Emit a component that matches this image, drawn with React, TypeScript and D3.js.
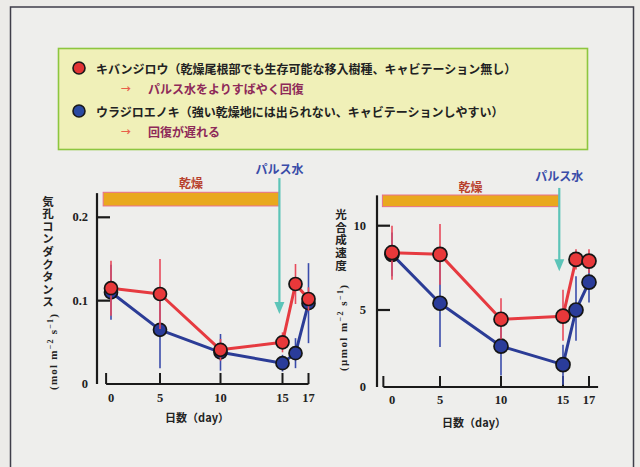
import React from "react";
import * as d3 from "d3";

// Measurement days (drought from day 0, pulse watering just before day 15)
const days = [0, 5, 10, 15, 16, 17];
const xTickDays = [0, 5, 10, 15, 17];

// Stomatal conductance (mol m-2 s-1)
const kibanGs = [0.115, 0.108, 0.041, 0.05, 0.12, 0.102];
const kibanGsErr = [0.033, 0.042, 0.013, 0.012, 0.024, 0.014];
const uraGs = [0.11, 0.065, 0.038, 0.025, 0.037, 0.097];
const uraGsErr = [0.033, 0.046, 0.022, 0.01, 0.018, 0.048];

// Photosynthetic rate (umol m-2 s-1)
const kibanPn = [8.4, 8.3, 4.4, 4.6, 8.0, 7.9];
const kibanPnErr = [1.6, 1.8, 1.3, 1.6, 0.6, 0.7];
const uraPn = [8.3, 5.4, 2.65, 1.45, 5.0, 6.65];
const uraPnErr = [1.3, 2.8, 1.9, 1.3, 2.0, 1.2];

const gsTicks = [0, 0.1, 0.2];
const pnTicks = [0, 5, 10];

const speciesNames = [
  "キバンジロウ（乾燥尾根部でも生存可能な移入樹種、キャビテーション無し）",
  "ウラジロエノキ（強い乾燥地には出られない、キャビテーションしやすい）",
];
const speciesNotes = ["パルス水をよりすばやく回復", "回復が遅れる"];

const RED = "#e63a40";
const BLUE = "#2b3c96";
const RED_ERR = "#e84a5c";
const BLUE_ERR = "#3a4cab";
const TEAL = "#5cc4b8";
const CJK = "'Noto Sans CJK JP', 'Noto Sans', sans-serif";
const NUM = "'Liberation Serif', 'DejaVu Serif', serif";

type Series = { values: number[]; err: number[]; color: string; errColor: string; fill: string };

type PanelProps = {
  x: d3.ScaleLinear<number, number>;
  y: d3.ScaleLinear<number, number>;
  axisX: number;
  xExtent: [number, number];
  yTopValue: number;
  yTicks: number[];
  tickFmt: (v: number) => string;
  tickLabelEnd: number;
  series: Series[];
  r: number;
  ann: {
    droughtFrom: number;
    droughtTo: number;
    barTop: number;
    barBottom: number;
    droughtLabel: number;
    pulseDay: number;
    pulseLabel: number;
    arrowTop: number;
    arrowTip: number;
  };
  label: string;
  labelX: number;
  labelTop: number;
  unitPrefix: string;
  unitX: number;
  unitY: number;
  unitLen: number;
  xTickLabelY: number;
  xTitleX: number;
  xTitleY: number;
};

function Panel(p: PanelProps) {
  const { x, y, series, ann } = p;
  const y0 = y(0);
  const line = d3
    .line<number>()
    .x((_, i) => x(days[i]))
    .y((d) => y(d));
  const px = x(ann.pulseDay);
  const tipY = y(ann.arrowTip);
  return (
    <g>
      {/* drought period bar */}
      <rect
        x={x(ann.droughtFrom)}
        y={y(ann.barTop)}
        width={x(ann.droughtTo) - x(ann.droughtFrom)}
        height={y(ann.barBottom) - y(ann.barTop)}
        fill="#e9a81e"
        stroke="#e8708c"
        strokeWidth={1}
      />
      <text
        x={(x(ann.droughtFrom) + x(ann.droughtTo)) / 2}
        y={y(ann.droughtLabel)}
        textAnchor="middle"
        dominantBaseline="central"
        fontFamily={CJK}
        fontWeight={700}
        fontSize={12}
        fill="#b8402c"
      >
        乾燥
      </text>
      {/* pulse watering arrow */}
      <text
        x={px}
        y={y(ann.pulseLabel)}
        textAnchor="middle"
        dominantBaseline="central"
        fontFamily={CJK}
        fontWeight={700}
        fontSize={12}
        fill="#3a4ca8"
      >
        パルス水
      </text>
      <line x1={px} x2={px} y1={y(ann.arrowTop)} y2={tipY - 8} stroke={TEAL} strokeWidth={2.2} />
      <path d={`M${px - 5},${tipY - 12}L${px + 5},${tipY - 12}L${px},${tipY}Z`} fill={TEAL} />

      {/* axes */}
      <line x1={p.axisX} x2={p.axisX} y1={y(p.yTopValue)} y2={y0} stroke="#1a1a1a" strokeWidth={2.2} />
      {p.yTicks
        .filter((t) => t > 0)
        .map((t) => (
          <line key={t} x1={p.axisX - 1} x2={p.axisX + 13} y1={y(t)} y2={y(t)} stroke="#1a1a1a" strokeWidth={2.2} />
        ))}
      {p.yTicks.map((t) => (
        <text
          key={t}
          x={p.tickLabelEnd}
          y={y(t)}
          textAnchor="end"
          dominantBaseline="central"
          fontFamily={NUM}
          fontWeight={700}
          fontSize={12.5}
          fill="#222"
        >
          {p.tickFmt(t)}
        </text>
      ))}
      <line x1={x(p.xExtent[0])} x2={x(p.xExtent[1])} y1={y0} y2={y0} stroke="#1a1a1a" strokeWidth={2.2} />
      {[p.xExtent[0], ...xTickDays.filter((d) => d > 0)].map((d) => (
        <line key={d} x1={x(d)} x2={x(d)} y1={y0} y2={y0 - 11} stroke="#1a1a1a" strokeWidth={2} />
      ))}
      {xTickDays.map((d) => (
        <text
          key={d}
          x={x(d)}
          y={p.xTickLabelY}
          textAnchor="middle"
          dominantBaseline="central"
          fontFamily={NUM}
          fontWeight={700}
          fontSize={12.5}
          fill="#222"
        >
          {d}
        </text>
      ))}
      <text
        x={p.xTitleX}
        y={p.xTitleY}
        textAnchor="middle"
        dominantBaseline="central"
        fontFamily={CJK}
        fontWeight={700}
        fontSize={11}
        fill="#222"
      >
        日数（day）
      </text>

      {/* vertical axis title */}
      <text
        x={p.labelX}
        y={p.labelTop}
        fontFamily={CJK}
        fontWeight={700}
        fontSize={11.5}
        fill="#222"
        style={{ writingMode: "vertical-rl", letterSpacing: "1.1px" }}
      >
        {p.label}
      </text>
      <text
        transform={`translate(${p.unitX},${p.unitY}) rotate(-90)`}
        textAnchor="middle"
        fontFamily={NUM}
        fontWeight={700}
        fontSize={11}
        fill="#222"
        textLength={p.unitLen}
        lengthAdjust="spacing"
      >
        ({p.unitPrefix}mol m
        <tspan dy={-4} fontSize={8}>
          −2
        </tspan>
        <tspan dy={4}> s</tspan>
        <tspan dy={-4} fontSize={8}>
          −1
        </tspan>
        <tspan dy={4}>)</tspan>
      </text>

      {/* series: error bars, lines, markers */}
      {series.map((s, si) => (
        <g key={si}>
          {s.values.map((v, i) => (
            <line
              key={i}
              x1={x(days[i])}
              x2={x(days[i])}
              y1={y(v - s.err[i])}
              y2={y(v + s.err[i])}
              stroke={s.errColor}
              strokeWidth={1.6}
            />
          ))}
          <path d={line(s.values) || ""} fill="none" stroke={s.color} strokeWidth={3} strokeLinejoin="round" />
          {s.values.map((v, i) => (
            <circle key={i} cx={x(days[i])} cy={y(v)} r={p.r} fill={s.fill} stroke="#151515" strokeWidth={1.7} />
          ))}
        </g>
      ))}
    </g>
  );
}

export default function App() {
  const xLeft = d3.scaleLinear().domain(xTickDays).range([111, 160, 220.5, 282.5, 308.5]);
  const yLeft = d3.scaleLinear().domain([0, 0.2]).range([384, 217.3]);
  const xRight = d3.scaleLinear().domain(xTickDays).range([392, 440, 501, 563, 589]);
  const yRight = d3.scaleLinear().domain([0, 5, 10]).range([387, 310, 225.7]);

  const gsSeries: Series[] = [
    { values: uraGs, err: uraGsErr, color: BLUE, errColor: BLUE_ERR, fill: "#2a3c9a" },
    { values: kibanGs, err: kibanGsErr, color: RED, errColor: RED_ERR, fill: "#e8383a" },
  ];
  const pnSeries: Series[] = [
    { values: uraPn, err: uraPnErr, color: BLUE, errColor: BLUE_ERR, fill: "#2a3c9a" },
    { values: kibanPn, err: kibanPnErr, color: RED, errColor: RED_ERR, fill: "#e8383a" },
  ];

  return (
    <svg
      width={640}
      height={467}
      viewBox="0 0 640 467"
      style={{ position: "absolute", left: 0, top: 0, display: "block" }}
    >
      <rect x={0} y={0} width={640} height={467} fill="#ecebe8" />
      <rect x={10.5} y={7} width={623} height={470} fill="#eeeeec" stroke="#3f3e4a" strokeWidth={1.5} />

      {/* legend */}
      <rect x={58.5} y={48.5} width={529} height={101} fill="#f0f0b8" stroke="#8dc63f" strokeWidth={1.6} />
      {speciesNames.map((name, i) => {
        const cy = 68 + i * 43;
        return (
          <g key={i}>
            <circle cx={79} cy={cy} r={6} fill={i === 0 ? "#e23434" : "#2a4aa2"} stroke="#1a1a1a" strokeWidth={1.6} />
            <text x={96} y={cy} dominantBaseline="central" fontFamily={CJK} fontWeight={700} fontSize={12} fill="#222">
              {name}
            </text>
            <text x={121} y={cy + 20} dominantBaseline="central" fontFamily={CJK} fontSize={10} fontWeight={700} fill="#e8604a">
              →
            </text>
            <text x={148} y={cy + 20} dominantBaseline="central" fontFamily={CJK} fontWeight={700} fontSize={12} fill="#8e2a58">
              {speciesNotes[i]}
            </text>
          </g>
        );
      })}

      <Panel
        x={xLeft}
        y={yLeft}
        axisX={97}
        xExtent={[-0.5, 17]}
        yTopValue={0.229}
        yTicks={gsTicks}
        tickFmt={(v) => (v === 0 ? "0" : d3.format(".1f")(v))}
        tickLabelEnd={88}
        series={gsSeries}
        r={6.5}
        ann={{
          droughtFrom: -0.8,
          droughtTo: 14.7,
          barTop: 0.23,
          barBottom: 0.2136,
          droughtLabel: 0.2416,
          pulseDay: 14.75,
          pulseLabel: 0.258,
          arrowTop: 0.247,
          arrowTip: 0.084,
        }}
        label="気孔コンダクタンス"
        labelX={48}
        labelTop={195.5}
        unitPrefix=""
        unitX={57}
        unitY={352}
        unitLen={76}
        xTickLabelY={398}
        xTitleX={197}
        xTitleY={417}
      />
      <Panel
        x={xRight}
        y={yRight}
        axisX={377}
        xExtent={[-0.9, 17.7]}
        yTopValue={11.8}
        yTicks={pnTicks}
        tickFmt={(v) => String(v)}
        tickLabelEnd={366}
        series={pnSeries}
        r={7}
        ann={{
          droughtFrom: -1,
          droughtTo: 14.65,
          barTop: 11.82,
          barBottom: 11.13,
          droughtLabel: 12.35,
          pulseDay: 14.7,
          pulseLabel: 13.0,
          arrowTop: 12.24,
          arrowTip: 7.3,
        }}
        label="光合成速度"
        labelX={341}
        labelTop={209}
        unitPrefix="μ"
        unitX={347}
        unitY={328}
        unitLen={86}
        xTickLabelY={399.5}
        xTitleX={474}
        xTitleY={422}
      />
    </svg>
  );
}
